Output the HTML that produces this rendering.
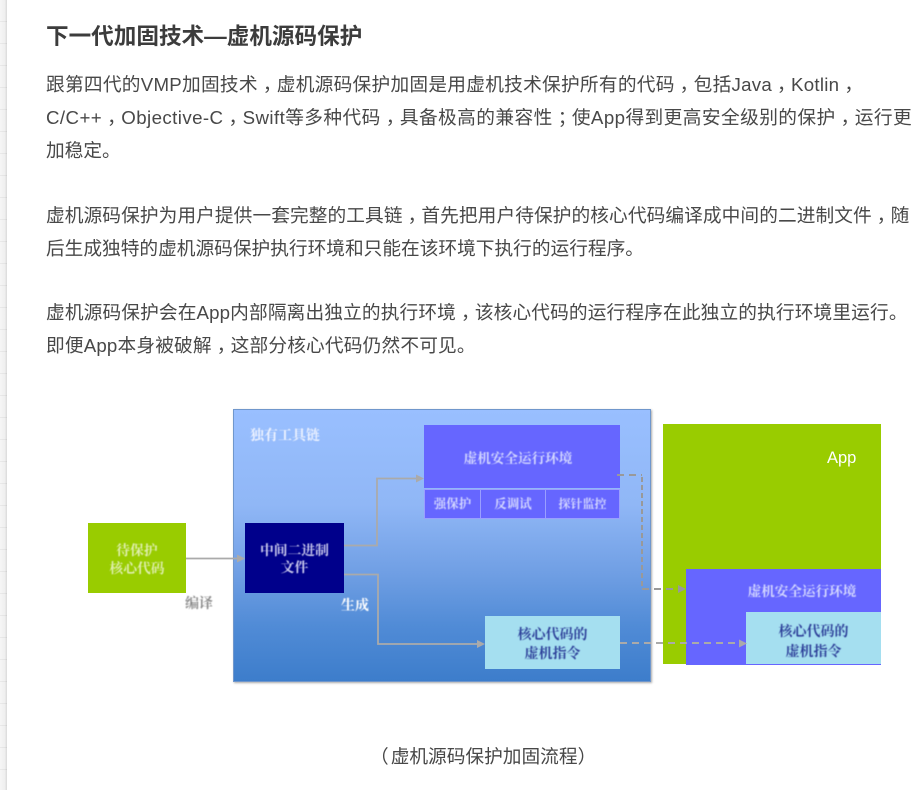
<!DOCTYPE html>
<html lang="zh"><head><meta charset="utf-8"><title>虚机源码保护</title>
<style>
html,body{margin:0;padding:0;background:#fff}
body{width:921px;height:790px;position:relative;overflow:hidden;font-family:"Liberation Sans","Noto Sans CJK SC",sans-serif;color:#444}
.strip{position:absolute;left:0;top:0;width:7px;height:790px;background:repeating-linear-gradient(180deg,transparent 0,transparent 21px,rgba(0,0,0,.05) 21px,rgba(0,0,0,.05) 22px),linear-gradient(90deg,#f6f6f6,#efefef 70%,#d8d8d8)}
.l{position:absolute;left:46px;white-space:nowrap;font-size:18.700px;line-height:33px;height:33px;color:#484848}
.l i,.c i{font-style:normal;position:relative;left:5px}
h1{position:absolute;left:46px;top:22px;margin:0;font-size:22.600px;line-height:30px;font-weight:bold;color:#3c3c3c;white-space:nowrap}
.b{position:absolute;box-sizing:border-box}
.t{position:absolute;font-family:"Noto Serif CJK SC","Noto Sans CJK SC",serif;font-weight:bold;font-size:13.600px;line-height:21px;color:#d6daff;text-align:center;white-space:nowrap;filter:blur(.4px)}
svg{position:absolute;left:0;top:0;filter:blur(.25px)}
</style></head><body>
<div class="strip"></div>
<h1>下一代加固技术—虚机源码保护</h1>
<div class="l" style="top:68px;letter-spacing:.26px">跟第四代的VMP加固技术<i>，</i>虚机源码保护加固是用虚机技术保护所有的代码<i>，</i>包括Java<i>，</i>Kotlin<i>，</i></div>
<div class="l" style="top:101px;letter-spacing:.42px">C/C++<i>，</i>Objective-C<i>，</i>Swift等多种代码<i>，</i>具备极高的兼容性<i>；</i>使App得到更高安全级别的保护<i>，</i>运行更</div>
<div class="l" style="top:134px">加稳定。</div>
<div class="l" style="top:199px;letter-spacing:.08px">虚机源码保护为用户提供一套完整的工具链<i>，</i>首先把用户待保护的核心代码编译成中间的二进制文件<i>，</i>随</div>
<div class="l" style="top:232px">后生成独特的虚机源码保护执行环境和只能在该环境下执行的运行程序。</div>
<div class="l" style="top:296px;letter-spacing:.13px">虚机源码保护会在App内部隔离出独立的执行环境<i>，</i>该核心代码的运行程序在此独立的执行环境里运行。</div>
<div class="l" style="top:329px;letter-spacing:.17px">即便App本身被破解<i>，</i>这部分核心代码仍然不可见。</div>

<div class="b" style="left:233px;top:409px;width:418px;height:273px;background:linear-gradient(180deg,#99bfff 0%,#90b7f6 35%,#709fe4 60%,#508bd6 80%,#3d7dcb 100%);border:1px solid #7097cc;box-shadow:1px 1px 2px #aaa"></div>
<div class="b" style="left:88px;top:523px;width:98px;height:70px;background:#99cc00"></div>
<div class="b" style="left:245px;top:523px;width:99px;height:70px;background:#00008b"></div>
<div class="b" style="left:424px;top:425px;width:196px;height:63px;background:#6666ff"></div>
<div class="b" style="left:424px;top:489px;width:57px;height:30px;background:#6666ff;border:1px solid #9a9fff"></div>
<div class="b" style="left:480px;top:489px;width:66px;height:30px;background:#6666ff;border:1px solid #9a9fff"></div>
<div class="b" style="left:545px;top:489px;width:75px;height:30px;background:#6666ff;border:1px solid #9a9fff"></div>
<div class="b" style="left:485px;top:616px;width:135px;height:53px;background:#a5dff0"></div>
<div class="b" style="left:663px;top:424px;width:218px;height:240px;background:#99cc00"></div>
<div class="b" style="left:686px;top:569px;width:195px;height:96px;background:#6666ff"></div>
<div class="b" style="left:746px;top:612px;width:135px;height:52px;background:#a5dff0"></div>

<svg width="921" height="790" viewBox="0 0 921 790" fill="none">
<g stroke="#aaaaaa" stroke-width="1.800">
<path d="M186 558.500H240"/>
<path d="M344 545.500H377V478.500H420"/>
<path d="M344 574.500H378V644H480"/>
</g>
<g fill="#aaaaaa">
<path d="M245 558.500l-8-4v8z"/>
<path d="M424 478.500l-8-4v8z"/>
<path d="M485 644l-8-4v8z"/>
</g>
<g stroke="#999999" stroke-width="2">
<path d="M617 475H642" stroke-dasharray="7 5"/>
<path d="M642 477V587" stroke-dasharray="5 3"/>
<path d="M642 589H682" stroke-dasharray="7 5"/>
</g>
<path d="M686 589l-8-4v8z" fill="#999999"/>
<path d="M620 643H742" stroke="#aaaaaa" stroke-width="2" stroke-dasharray="7 5"/>
<path d="M747 643.500l-8-4v8z" fill="#aaaaaa"/>
</svg>

<div class="t" style="left:88px;top:540px;width:98px;font-size:13.800px;line-height:18px;color:#e0efb0">待保护<br>核心代码</div>
<div class="t" style="left:245px;top:541px;width:99px;font-size:13.800px;line-height:17px;color:#ccccee">中间二进制<br>文件</div>
<div class="t" style="left:185px;top:593px;font-size:14px;color:#8a8a8a">编译</div>
<div class="t" style="left:341px;top:595px;font-size:14px;color:#fff">生成</div>
<div class="t" style="left:250px;top:425px;font-size:14px;color:#eef3ff">独有工具链</div>
<div class="t" style="left:420px;top:447px;width:196px;font-size:13.600px">虚机安全运行环境</div>
<div class="t" style="left:424px;top:493px;width:57px;font-size:12.500px">强保护</div>
<div class="t" style="left:481px;top:493px;width:64px;font-size:12.500px">反调试</div>
<div class="t" style="left:545px;top:493px;width:75px;font-size:12px">探针监控</div>
<div class="t" style="left:485px;top:625px;width:135px;font-size:14px;line-height:19px;color:#2c3e98">核心代码的<br>虚机指令</div>
<div class="t" style="left:685px;top:580px;width:234px;font-size:13.600px">虚机安全运行环境</div>
<div class="t" style="left:746px;top:621px;width:135px;font-size:14px;line-height:20px;color:#2c3e98">核心代码的<br>虚机指令</div>
<div style="position:absolute;left:827px;top:449px;font-size:16.500px;line-height:19px;color:#fff;font-family:'Liberation Sans',sans-serif">App</div>
<div class="c" style="position:absolute;left:372px;top:743px;font-size:18.700px;line-height:28px;color:#484848;white-space:nowrap"><i style="left:-2px">（</i>虚机源码保护加固流程<i style="left:0">）</i></div>
</body></html>
